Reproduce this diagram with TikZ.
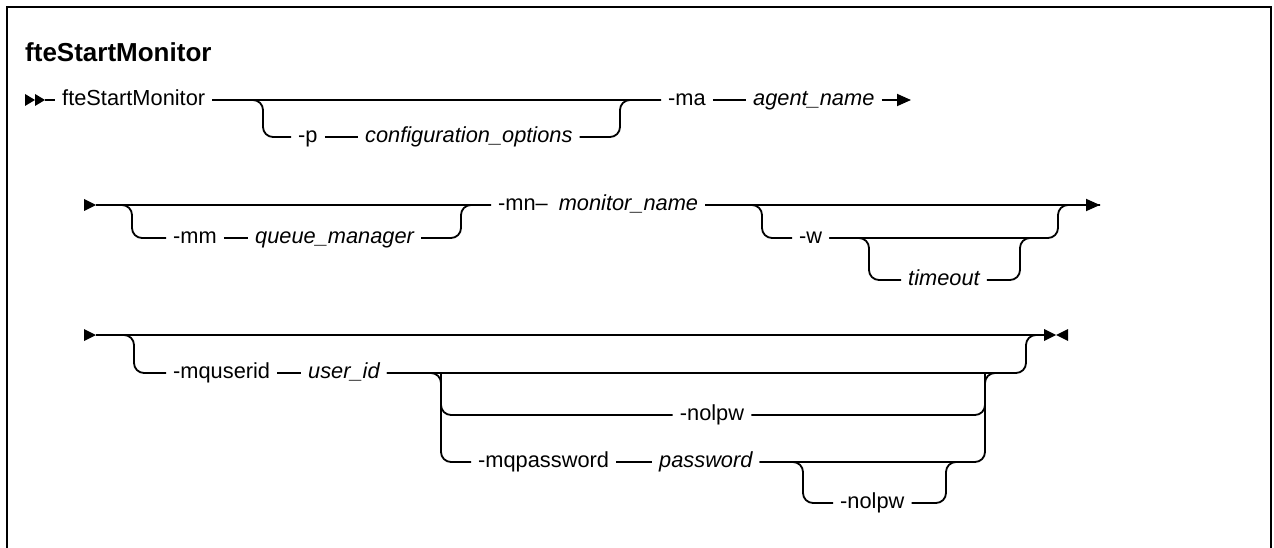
\documentclass[tikz,border=0pt]{standalone}
\usepackage{fontspec}
\setmainfont{Liberation Sans}
\usetikzlibrary{arrows.meta,positioning}
\newcommand\synfont{\fontsize{21.8}{26}\selectfont}
\newcommand\synhead{\fontsize{26}{30}\selectfont\bfseries}
\tikzset{
  kw/.style={font=\synfont, inner xsep=7pt, inner ysep=0pt, text height=15pt, text depth=4pt, anchor=west},
  var/.style={kw, font=\synfont\itshape},
  rail/.style={line width=1.8pt, rounded corners=10pt},
  railtip/.style={line width=1.8pt, -{Triangle[length=14pt,width=12pt]}}
}
\begin{document}
\begin{tikzpicture}[x=1pt,y=-1pt]
\useasboundingbox (0,0) rectangle (1274,548);
% frame
\draw[line width=2.5pt] (7,548) -- (7,7) -- (1271,7) -- (1271,548);
\node[font=\synhead, anchor=base west, inner sep=0pt] (title) at (25,62) {fteStartMonitor};

% row 1
\foreach \x in {25,35} \fill (\x,94) -- ++(10,6) -- ++(-10,6) -- cycle;
\coordinate (s1) at (45,100);
\coordinate (b1) at (263,100);
\coordinate (j1) at (620,100);
\coordinate (e1) at (911,100);
\node[kw] (cmd) at (55,100) {fteStartMonitor};
\node[kw] (p) at (291,137) {-p};
\node[var] (conf) at (358,137) {configuration\_options};
\node[kw] (ma) at (661,100) {-ma};
\node[var] (agent) at (746,100) {agent\_name};
\draw[rail] (s1) -- (cmd.west);
\draw[rail] (cmd.east) -- (ma.west);
\draw[rail] (cmd.east) -| (b1 |- p.west) -- (p.west);
\draw[rail] (p.east) -- (conf.west);
\draw[rail] (conf.east) -| (j1) -- (ma.west);
\draw[rail] (ma.east) -- (agent.west);
\draw[railtip] (agent.east) -- (e1);

% row 2
\foreach \y in {205,335} \fill (84,\y) ++(0,-6) -- ++(12,6) -- ++(-12,6) -- cycle;
\coordinate (s2) at (96,205);
\coordinate (b2) at (132,205);
\coordinate (j2) at (461,205);
\coordinate (b3) at (762,205);
\coordinate (j3) at (1058,205);
\coordinate (b4) at (869,238);
\coordinate (j4) at (1020,238);
\coordinate (e2) at (1100,205);
\node[kw] (mm) at (166,238) {-mm};
\node[var] (qm) at (248,238) {queue\_manager};
\node[kw] (mn) at (491,205) {-mn–\hspace{.5em}\textit{monitor\_name}};
\node[kw] (w) at (792,238) {-w};
\node[var] (tmo) at (901,280) {timeout};
\draw[rail] (s2) -- (mn.west);
\draw[rail] (s2) -| (b2 |- mm.west) -- (mm.west);
\draw[rail] (mm.east) -- (qm.west);
\draw[rail] (qm.east) -| (j2) -- (mn.west);
\draw[railtip] (mn.east) -- (e2);
\draw[rail] (mn.east) -| (b3 |- w.west) -- (w.west);
\draw[rail] (w.east) -| (j3) -- (e2);
\draw[rail] (w.east) -| (b4 |- tmo.west) -- (tmo.west);
\draw[rail] (tmo.east) -| (j4) -- ++(12,0);

% row 3
\coordinate (s3) at (96,335);
\coordinate (b5) at (134,335);
\coordinate (j5) at (1026,335);
\coordinate (b6) at (441,373);
\coordinate (j6) at (985,373);
\coordinate (b7) at (803,462);
\coordinate (j7) at (946,462);
\coordinate (e3) at (1044,335);
\node[kw] (uid) at (166,373) {-mquserid};
\node[var] (user) at (301,373) {user\_id};
\node[kw, anchor=center] (nolpw) at (712,415) {-nolpw};
\node[kw] (mqpw) at (471,462) {-mqpassword};
\node[var] (pw) at (652,462) {password};
\node[kw] (nolpwb) at (833,503) {-nolpw};
\draw[rail] (s3) -- (e3);
\draw[rail] (s3) -| (b5 |- uid.west) -- (uid.west);
\draw[rail] (uid.east) -- (user.west);
\draw[rail] (user.east) -| (j5) -- ++(12,0);
\draw[rail] (user.east) -| (b6 |- mqpw.west) -- (mqpw.west);
\draw[rail] (b6) |- (nolpw.west);
\draw[rail] (nolpw.east) -| (j6);
\draw[rail] (mqpw.east) -- (pw.west);
\draw[rail] (pw.east) -| (j6) -- ++(12,0);
\draw[rail] (pw.east) -| (b7 |- nolpwb.west) -- (nolpwb.west);
\draw[rail] (nolpwb.east) -| (j7) -- ++(12,0);
\fill (1044,329) -- (1056,335) -- (1044,341) -- cycle;
\fill (1068,329) -- (1056,335) -- (1068,341) -- cycle;
\end{tikzpicture}
\end{document}
